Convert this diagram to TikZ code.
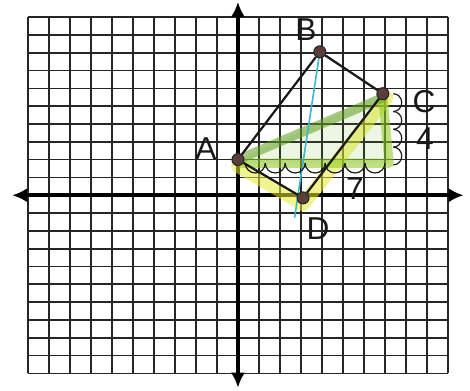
\documentclass[tikz,border=0pt]{standalone}
\usepackage{fontspec}
\setmainfont{Liberation Sans}
\usetikzlibrary{arrows.meta,positioning}
\definecolor{pencil}{RGB}{25,25,25}
\definecolor{dotbrown}{RGB}{90,62,55}
\definecolor{hlgreen}{RGB}{110,185,35}
\definecolor{hlyellow}{RGB}{230,235,50}
\definecolor{penblue}{RGB}{60,180,205}
\tikzset{
  grid line/.style={draw=black!85, line width=1.3pt},
  axis arrow/.style={{Latex[length=4mm,width=3.8mm]}-{Latex[length=4mm,width=3.8mm]}, line width=3pt},
  plot point/.style={
    circle, draw=black!85, fill=dotbrown, line width=0.8pt,
    minimum size=3.2mm, inner sep=0pt
  },
  plot label/.style={font=\fontsize{24}{24}\selectfont, text=pencil, inner sep=0pt},
  side line/.style={pencil, line width=1.7pt},
  marker band/.style={line width=7pt, opacity=0.55, line cap=round, line join=round},
  count loop/.style={pencil, line width=0.9pt}
}

\begin{document}
\begin{tikzpicture}[x=0.56cm, y=0.475cm]
    \useasboundingbox (-11.33,-10.96) rectangle (11.05,10.96);
    % graph paper
    \foreach \k in {-10,...,10} {
      \draw[grid line] (\k,-10) -- (\k,10);
      \draw[grid line] (-10,\k) -- (10,\k);
    }
    \draw[axis arrow] (-10.75,0) -- (10.75,0);
    \draw[axis arrow] (0,-10.8) -- (0,10.85);

    \coordinate (pA) at (0,2);
    \coordinate (pB) at (3.9,8.05);
    \coordinate (pC) at (6.9,5.7);
    \coordinate (pD) at (3.1,-0.15);
    \coordinate (E) at (7.2,1.8);
    \coordinate (F) at (0.15,1.8);
    \coordinate (T) at (2.7,-1.25);

    % highlighter
    \draw[marker band, hlyellow, line width=10pt] ([yshift=-5pt]pA) -- ([yshift=-5pt]pD) -- ([xshift=3pt,yshift=-3pt]pC);
    \fill[hlgreen, opacity=0.12] (pA) -- (pC) -- (E) -- (F) -- cycle;
    \draw[marker band, hlgreen!80!yellow] ([yshift=-2pt]pC) -- (E) -- (F);
    \draw[marker band, hlgreen!85!black] (pA) -- ([yshift=-3pt]pC);
    \draw[penblue, line width=1.2pt] (pB) -- (T);

    % counting the legs
    \foreach \i in {0,...,6}
      \draw[count loop] ({0.35+0.95*\i},1.8) arc[start angle=180, end angle=360, x radius=0.475, y radius=0.55];
    \foreach \i in {0,...,3}
      \draw[count loop] (7.4,{5.7-\i}) arc[start angle=90, end angle=-90, x radius=0.4, y radius=0.5];

    % the four vertices
    \node[plot point] (A) at (pA) {};
    \node[plot point] (B) at (pB) {};
    \node[plot point] (C) at (pC) {};
    \node[plot point] (D) at (pD) {};

    % rectangle ABCD
    \draw[side line] (A) -- (B);
    \draw[side line] (B) -- (C);
    \draw[side line] (C) -- (D);
    \draw[side line] (D) -- (A);

    \node[plot label] (labA) at (-1.52,2.64) {A};
    \node[plot label] (labB) at (3.24,9.27) {B};
    \node[plot label] (labC) at (8.86,5.28) {C};
    \node[plot label] (labD) at (3.81,-1.85) {D};
    \node[plot label] (legV) at (8.9,3.2) {4};
    \node[plot label] (legH) at (5.57,0.39) {7};
  \end{tikzpicture}
\end{document}
